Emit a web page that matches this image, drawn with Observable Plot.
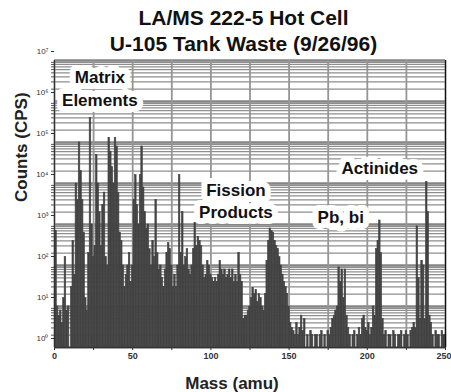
<!DOCTYPE html>
<html><head><meta charset="utf-8">
<script src="https://cdn.jsdelivr.net/npm/d3@7"></script>
<script src="https://cdn.jsdelivr.net/npm/@observablehq/plot@0.6"></script>
<style>
body{margin:0;background:#fff;}
#wrap{position:relative;width:451px;height:392px;font-family:"Liberation Sans",Arial,Helvetica,sans-serif;}
#title{position:absolute;left:18px;top:5px;width:451px;text-align:center;font-weight:bold;font-size:21px;line-height:25.5px;color:#111;z-index:2;}
#wrap svg{position:absolute;left:0;top:0;}
</style></head><body>
<div id="wrap"><div id="title">LA/MS 222-5 Hot Cell<br>U-105 Tank Waste (9/26/96)</div></div>
<script>
const titleLines = ["LA/MS 222-5 Hot Cell", "U-105 Tank Waste (9/26/96)"];
const xLabel = "Mass (amu)";
const yLabel = "Counts (CPS)";

// mass numbers 1..250
const masses = d3.range(1, 251);
// counts (CPS) per mass
const counts = [
  700, 10, 6, 8, 4, 16, 160, 8, 10, 0,
  30, 400, 60, 1e4, 4000, 1e5, 2e4, 4000, 630, 16,
  8, 200, 4e5, 1000, 160, 300, 5e4, 1e4, 2000, 300,
  3000, 6000, 160, 100, 1.3e5, 6e4, 2.5e4, 1e4, 1.3e5, 8e4,
  6000, 630, 400, 100, 30, 60, 100, 200, 40, 100,
  4000, 1.6e4, 3000, 1000, 1.6e4, 8e4, 8000, 2000, 800, 1000,
  250, 100, 400, 160, 4000, 200, 80, 100, 50, 30,
  80, 200, 350, 250, 100, 30, 60, 30, 100, 1.6e4,
  200, 2000, 100, 160, 250, 80, 60, 100, 250, 1100,
  300, 500, 400, 300, 100, 50, 60, 130, 100, 60,
  50, 40, 50, 40, 60, 130, 80, 60, 80, 50,
  60, 80, 50, 80, 40, 60, 40, 200, 60, 40,
  5, 6, 6, 8, 10, 16, 28, 20, 25, 13,
  20, 16, 10, 8, 20, 130, 400, 800, 700, 630,
  400, 300, 250, 160, 100, 60, 40, 30, 20, 10,
  4, 3, 2.5, 2, 4, 2, 3, 6, 2.5, 5,
  0, 2, 0, 2.5, 2, 0, 2, 2, 0, 2,
  2.5, 0, 2, 0, 2.5, 2, 3, 5, 6, 8,
  10, 90, 40, 80, 16, 80, 6, 3, 2, 0,
  2, 2.5, 0, 2, 3, 2, 5, 6, 3, 2.5,
  4, 2, 3, 10, 6, 250, 400, 1250, 200, 5,
  2, 2.5, 0, 2, 2, 0, 2.5, 2, 0, 2,
  2, 2.5, 0, 2, 2.5, 2, 0, 2.5, 3, 4,
  3, 900, 50, 5, 130, 100, 5, 1.1e4, 2000, 6,
  4, 2, 0, 2.5, 2, 2, 0, 2.5, 2, 2
];

const xTicks = [0, 25, 50, 75, 100, 125, 150, 175, 200, 225, 250];
const xTickLabels = ["0", "", "50", "", "100", "", "150", "", "200", "", "250"];
const yTicks = [1, 10, 100, 1e3, 1e4, 1e5, 1e6, 1e7];
const yTickLabels = ["10⁰", "10¹", "10²", "10³", "10⁴", "10⁵", "10⁶", "10⁷"];
const yMinorFactors = [2, 3, 4, 5, 6, 7, 8, 9];

const annotText = ["Matrix\nElements", "Fission\nProducts", "Pb, bi", "Actinides"];
const annotMass = [29, 116, 183, 208];
const annotCounts = [2.2e6, 3.9e3, 1.65e3, 2.5e4];

const data = masses.map((m, i) => ({m, c: counts[i]})).filter(d => d.c > 1);
const minorY = yTicks.slice(0, -1).flatMap(t => yMinorFactors.map(k => k * t));
const lastX = xTicks[xTicks.length - 1];

const plot = Plot.plot({
  width: 451, height: 392,
  marginLeft: 54, marginRight: 6, marginTop: 60, marginBottom: 45,
  style: {fontFamily: '"Liberation Sans", Arial, sans-serif', background: "transparent", overflow: "visible"},
  x: {domain: [0, 250]},
  y: {type: "log", domain: [1, 1e7]},
  marks: [
    Plot.ruleY(minorY, {stroke: "#8e8e8e", strokeWidth: 1.3}),
    Plot.ruleY(yTicks, {stroke: "#858585", strokeWidth: 2.6}),
    Plot.ruleX(xTicks, {stroke: "#959595", strokeWidth: 1.8}),
    Plot.rectY(data, {x1: d => d.m - 0.5, x2: d => d.m + 0.5, y1: 1, y2: "c",
      fill: "#434343", stroke: "#434343", strokeWidth: 0.6}),
    Plot.ruleX([0], {stroke: "#333", strokeWidth: 1.2}),
    Plot.ruleX([250], {stroke: "#111", strokeWidth: 1.2}),
    Plot.ruleY([1], {stroke: "#333", strokeWidth: 1.2}),
    Plot.axisX({ticks: xTicks, tickSize: 3, tickPadding: 2,
      tickFormat: d => (d === lastX ? "" : xTickLabels[xTicks.indexOf(d)]),
      fontSize: 9, fontWeight: "bold", color: "#333", label: null}),
    Plot.text([xTickLabels[xTickLabels.length - 1]], {x: lastX, frameAnchor: "bottom", dy: 5, dx: 6,
      textAnchor: "end", lineAnchor: "top", fontSize: 9, fontWeight: "bold", fill: "#333"}),
    Plot.axisY({ticks: minorY, tickSize: 3, tickFormat: () => "", color: "#555", label: null}),
    Plot.axisY({ticks: yTicks, tickSize: 3, tickPadding: 3, tickFormat: d => yTickLabels[yTicks.indexOf(d)],
      fontSize: 8, dy: -9, color: "#333", label: null}),
    Plot.text(annotText, {x: (d, i) => annotMass[i], y: (d, i) => annotCounts[i], text: d => d,
      fontSize: 17, fontWeight: "bold", fill: "#111", stroke: "white", strokeWidth: 12, lineHeight: 1.3}),
    Plot.text([xLabel], {frameAnchor: "bottom", dy: 41, dx: -18, lineAnchor: "bottom",
      fontSize: 17, fontWeight: "bold", fill: "#222"}),
    Plot.text([yLabel], {frameAnchor: "left", rotate: -90, dx: -28, dy: -2, lineAnchor: "bottom",
      fontSize: 17, fontWeight: "bold", fill: "#222"})
  ]
});
document.getElementById("wrap").appendChild(plot);
</script>
</body></html>
